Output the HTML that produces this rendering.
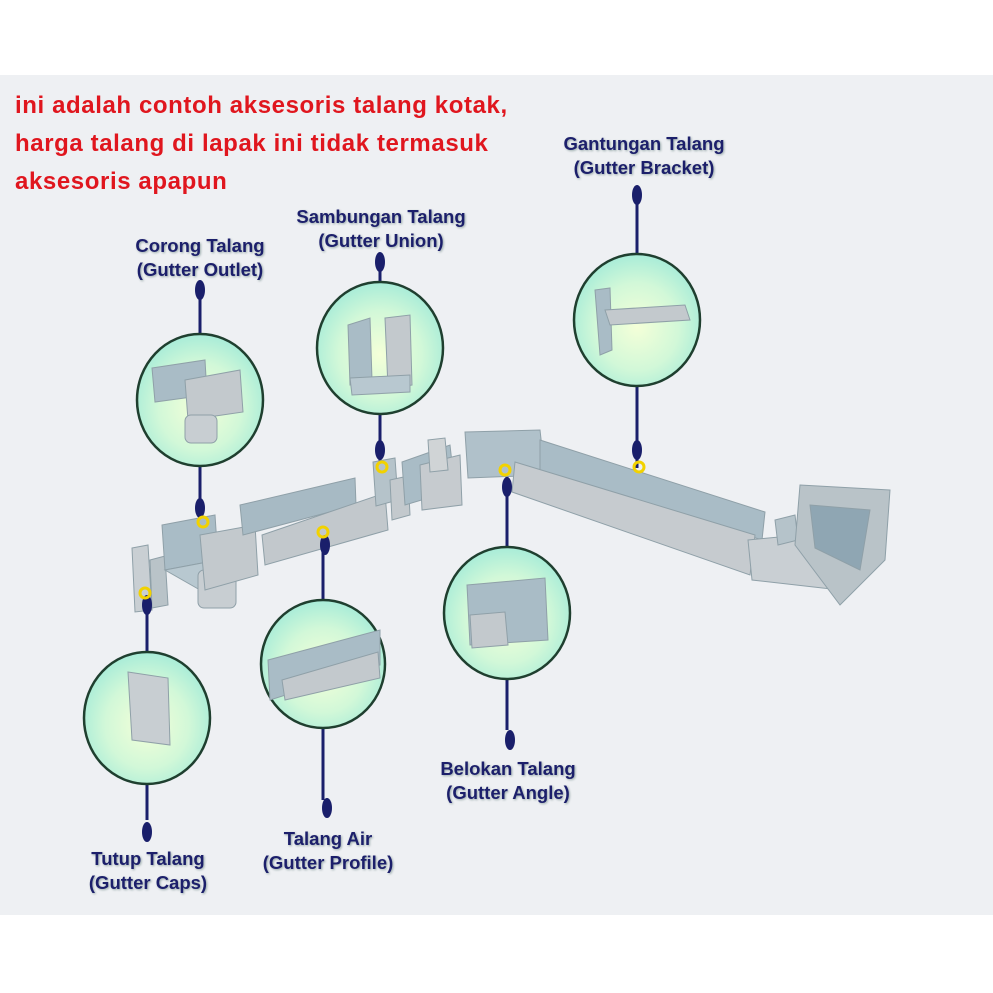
<!DOCTYPE html>
<html><head><meta charset="utf-8"><style>
html,body{margin:0;padding:0;background:#fff}
body{width:993px;height:993px;position:relative;overflow:hidden;font-family:"Liberation Sans",sans-serif}
#bg{position:absolute;left:0;top:75px;width:993px;height:840px;background:#eef0f3}
.red{position:absolute;left:15px;color:#e0161e;font-weight:bold;font-size:24px;letter-spacing:0.6px;line-height:38px;top:87px}
.lbl{position:absolute;color:#1c1f6b;font-weight:bold;font-size:18.5px;line-height:24px;text-align:center;width:240px;text-shadow:1px 1px 2px #9aa}
</style></head><body>
<div id="bg"></div>
<svg width="993" height="993" style="position:absolute;left:0;top:0">
<defs>
<radialGradient id="g" cx="50%" cy="55%" r="55%"><stop offset="0" stop-color="#f4ffd8"/><stop offset="0.6" stop-color="#d2f8d8"/><stop offset="1" stop-color="#a8ecd8"/></radialGradient>
</defs>
<g stroke="#1a1f6b" stroke-width="3">
<line x1="200" y1="290" x2="200" y2="525"/>
<line x1="380" y1="265" x2="380" y2="468"/>
<line x1="637" y1="195" x2="637" y2="468"/>
<line x1="147" y1="590" x2="147" y2="820"/>
<line x1="323" y1="530" x2="323" y2="800"/>
<line x1="507" y1="470" x2="507" y2="730"/>
</g>
<g stroke="#8fa0a8" stroke-width="1">
<polygon points="132,548 148,545 152,610 135,612" fill="#c9cfd3"/>
<polygon points="150,560 165,556 168,605 152,608" fill="#b9c3c8"/>
<polygon points="162,525 215,515 218,560 165,570" fill="#a9bcc6"/>
<polygon points="165,570 218,560 255,570 200,590" fill="#b8c8d0"/>
<rect x="198" y="570" width="38" height="38" rx="6" fill="#c8ced2"/>
<polygon points="200,535 255,525 258,575 205,590" fill="#c3c9cd"/>
<polygon points="240,505 355,478 356,505 243,535" fill="#a7bac4"/>
<polygon points="262,535 385,493 388,530 265,565" fill="#c2c8cc"/>
<polygon points="373,462 395,458 398,500 376,506" fill="#b5c3ca"/>
<polygon points="390,480 408,476 410,515 392,520" fill="#c3c9cd"/>
<polygon points="402,462 450,445 455,490 405,505" fill="#a9bcc6"/>
<polygon points="420,465 460,455 462,505 422,510" fill="#c6cbcf"/>
<polygon points="428,440 445,438 448,470 430,472" fill="#d0d4d6"/>
<polygon points="465,432 540,430 545,475 468,478" fill="#b0c1ca"/>
<polygon points="540,440 765,512 762,540 540,470" fill="#a9bcc6"/>
<polygon points="515,462 755,535 750,575 512,492" fill="#c6cbcf"/>
<polygon points="748,540 800,535 840,590 752,580" fill="#c9cfd3"/>
<polygon points="775,520 795,515 798,540 778,545" fill="#b5c3ca"/>
<polygon points="800,485 890,490 885,560 840,605 795,545" fill="#b9c3c8"/>
<polygon points="810,505 870,510 860,570 815,548" fill="#8fa6b3"/>
</g>
<g stroke="#1f3f2f" stroke-width="2.5" fill="url(#g)">
<ellipse cx="200" cy="400" rx="63" ry="66"/>
<ellipse cx="380" cy="348" rx="63" ry="66"/>
<ellipse cx="637" cy="320" rx="63" ry="66"/>
<ellipse cx="147" cy="718" rx="63" ry="66"/>
<ellipse cx="323" cy="664" rx="62" ry="64"/>
<ellipse cx="507" cy="613" rx="63" ry="66"/>
</g>
<g stroke="#8fa0a8" stroke-width="1">
<polygon points="152,368 205,360 207,395 155,402" fill="#a9bcc6"/>
<polygon points="185,380 240,370 243,412 188,420" fill="#c3c9cd"/>
<rect x="185" y="415" width="32" height="28" rx="6" fill="#c8ced2"/>
<polygon points="348,325 370,318 372,380 350,385" fill="#a9bcc6"/>
<polygon points="385,318 410,315 412,385 388,388" fill="#c3c9cd"/>
<polygon points="350,378 410,375 410,392 352,395" fill="#b8c8d0"/>
<polygon points="595,290 610,288 612,350 600,355" fill="#a9bcc6"/>
<polygon points="605,310 685,305 690,320 610,325" fill="#c3c9cd"/>
<polygon points="128,672 168,678 170,745 132,740" fill="#c8ced2"/>
<polygon points="268,660 380,630 380,665 270,700" fill="#a9bcc6"/>
<polygon points="282,680 378,652 380,678 285,700" fill="#c3c9cd"/>
<polygon points="467,585 545,578 548,640 470,645" fill="#a9bcc6"/>
<polygon points="470,615 505,612 508,645 472,648" fill="#c3c9cd"/>
</g>
<g fill="#1a1f6b">
<ellipse cx="200" cy="290" rx="5" ry="10"/><ellipse cx="380" cy="262" rx="5" ry="10"/>
<ellipse cx="637" cy="195" rx="5" ry="10"/><ellipse cx="147" cy="832" rx="5" ry="10"/>
<ellipse cx="327" cy="808" rx="5" ry="10"/><ellipse cx="510" cy="740" rx="5" ry="10"/>
<ellipse cx="200" cy="508" rx="5" ry="10"/><ellipse cx="380" cy="450" rx="5" ry="10"/>
<ellipse cx="637" cy="450" rx="5" ry="10"/><ellipse cx="147" cy="605" rx="5" ry="10"/>
<ellipse cx="325" cy="545" rx="5" ry="10"/><ellipse cx="507" cy="487" rx="5" ry="10"/>
</g>
<g fill="none" stroke="#f2d200" stroke-width="3">
<circle cx="203" cy="522" r="5"/><circle cx="382" cy="467" r="5"/><circle cx="639" cy="467" r="5"/>
<circle cx="145" cy="593" r="5"/><circle cx="323" cy="532" r="5"/><circle cx="505" cy="470" r="5"/>
</g>
</svg>
<div class="red">ini adalah contoh aksesoris talang kotak,<br>harga talang di lapak ini tidak termasuk<br>aksesoris apapun</div>
<div class="lbl" style="left:80px;top:234px">Corong Talang<br>(Gutter Outlet)</div>
<div class="lbl" style="left:261px;top:205px">Sambungan Talang<br>(Gutter Union)</div>
<div class="lbl" style="left:524px;top:132px">Gantungan Talang<br>(Gutter Bracket)</div>
<div class="lbl" style="left:28px;top:847px">Tutup Talang<br>(Gutter Caps)</div>
<div class="lbl" style="left:208px;top:827px">Talang Air<br>(Gutter Profile)</div>
<div class="lbl" style="left:388px;top:757px">Belokan Talang<br>(Gutter Angle)</div>
</body></html>
